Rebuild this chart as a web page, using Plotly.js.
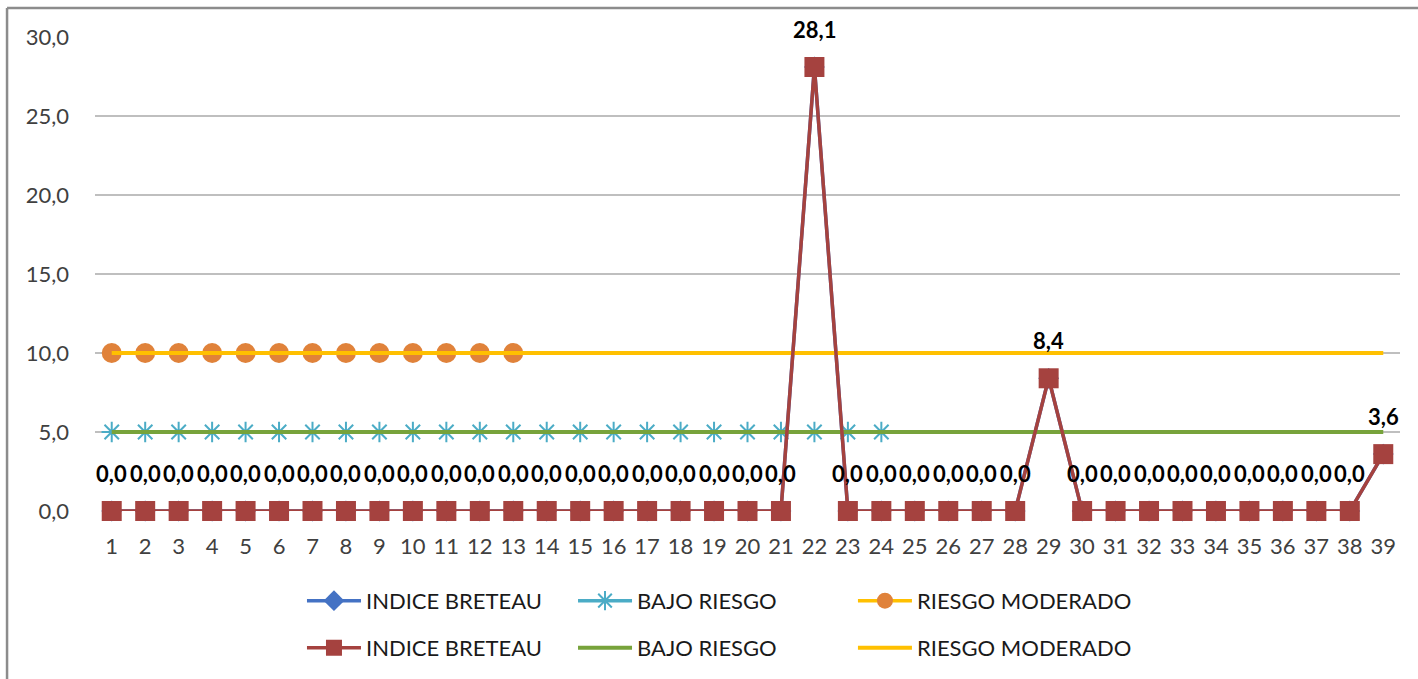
<!DOCTYPE html>
<html>
<head>
<meta charset="utf-8">
<script src="https://cdn.plot.ly/plotly-3.0.1.min.js"></script>
<style>html,body{margin:0;padding:0;background:#fff;}#chart{width:1418px;height:679px;}</style>
</head>
<body>
<div id="chart"></div>
<script>
const categories = ["1","2","3","4","5","6","7","8","9","10","11","12","13","14","15","16","17","18","19","20","21","22","23","24","25","26","27","28","29","30","31","32","33","34","35","36","37","38","39"];
const indiceBreteau = [0,0,0,0,0,0,0,0,0,0,0,0,0,0,0,0,0,0,0,0,0,28.1,0,0,0,0,0,0,8.4,0,0,0,0,0,0,0,0,0,3.6];
const bajoRiesgoMarkers = [5,5,5,5,5,5,5,5,5,5,5,5,5,5,5,5,5,5,5,5,5,5,5,5];
const riesgoModeradoMarkers = [10,10,10,10,10,10,10,10,10,10,10,10,10];
const bajoRiesgoLine = categories.map(() => 5);
const riesgoModeradoLine = categories.map(() => 10);
const yTicks = [0,5,10,15,20,25,30];
const yTickLabels = ["0,0","5,0","10,0","15,0","20,0","25,0","30,0"];

const fmt = v => v.toFixed(1).replace(".", ",");
const FONT = "Lato, 'Open Sans', sans-serif";

const traces = [
  {name:"INDICE BRETEAU", x:categories, y:indiceBreteau, mode:"lines+markers", cliponaxis:false,
   line:{color:"#4472C4", width:3.5}, marker:{symbol:"diamond", size:16, color:"#4472C4"},
   legend:"legend"},
  {name:"BAJO RIESGO", x:categories.slice(0, bajoRiesgoMarkers.length), y:bajoRiesgoMarkers, mode:"lines+markers", cliponaxis:false,
   line:{color:"#4BACC6", width:3.5},
   marker:{symbol:"asterisk", size:17, color:"#4BACC6", line:{color:"#4BACC6", width:2}},
   legend:"legend2"},
  {name:"BAJO RIESGO", x:categories, y:bajoRiesgoLine, mode:"lines", cliponaxis:false,
   line:{color:"#77A33B", width:4}, legend:"legend5"},
  {name:"RIESGO MODERADO", x:categories.slice(0, riesgoModeradoMarkers.length), y:riesgoModeradoMarkers, mode:"lines+markers", cliponaxis:false,
   line:{color:"#FFC000", width:3.5},
   marker:{symbol:"circle", size:20, color:"#E0823A"},
   legend:"legend3"},
  {name:"RIESGO MODERADO", x:categories, y:riesgoModeradoLine, mode:"lines", cliponaxis:false,
   line:{color:"#FFC000", width:4}, legend:"legend6"},
  {name:"INDICE BRETEAU", x:categories, y:indiceBreteau, mode:"lines+markers", cliponaxis:false,
   line:{color:"#A5423F", width:3.5}, marker:{symbol:"square", size:20, color:"#A5423F"},
   legend:"legend4"}
];

const annotations = categories.map((c, i) => ({
  x: i, y: indiceBreteau[i], xref:"x", yref:"y",
  text: "<b>" + fmt(indiceBreteau[i]) + "</b>",
  showarrow:false, yshift:38, xanchor:"center", yanchor:"middle",
  font:{family:FONT, size:22, color:"#000000"}
}));

const legendBase = {orientation:"v", xanchor:"left", yanchor:"middle",
  font:{family:FONT, size:22, color:"#1a1a1a"},
  itemwidth:54, bgcolor:"rgba(0,0,0,0)"};
const colX = [0.1586, 0.3663, 0.5808];
const rowY = [-0.187, -0.286];

const layout = {
  width:1418, height:679,
  margin:{l:95, r:18, t:37, b:167},
  paper_bgcolor:"#ffffff", plot_bgcolor:"#ffffff",
  font:{family:FONT, size:22, color:"#404040"},
  showlegend:true,
  xaxis:{type:"category", range:[-0.5, 38.5], showgrid:false, zeroline:false,
    showline:false, ticks:"", ticklabelstandoff:20,
    tickfont:{family:FONT, size:22, color:"#404040"}, fixedrange:true},
  yaxis:{range:[0,30], tickvals:yTicks, ticktext:yTickLabels, showgrid:true,
    gridcolor:"#BFBFBF", gridwidth:1.5, zeroline:false, showline:false, ticks:"",
    ticklabelstandoff:25, tickfont:{family:FONT, size:22, color:"#404040"}, fixedrange:true},
  legend:  Object.assign({}, legendBase, {x:colX[0], y:rowY[0]}),
  legend2: Object.assign({}, legendBase, {x:colX[1], y:rowY[0]}),
  legend3: Object.assign({}, legendBase, {x:colX[2], y:rowY[0]}),
  legend4: Object.assign({}, legendBase, {x:colX[0], y:rowY[1]}),
  legend5: Object.assign({}, legendBase, {x:colX[1], y:rowY[1]}),
  legend6: Object.assign({}, legendBase, {x:colX[2], y:rowY[1]}),
  annotations: annotations,
  shapes:[
    {type:"line", xref:"paper", yref:"paper", x0:-0.0674, x1:1.02, y0:1.061, y1:1.061,
     line:{color:"#8c8c8c", width:2.5}},
    {type:"line", xref:"paper", yref:"paper", x0:-0.0674, x1:-0.0674, y0:1.061, y1:-0.36,
     line:{color:"#8c8c8c", width:2.5}}
  ]
};

Plotly.newPlot("chart", traces, layout, {displayModeBar:false, staticPlot:true});
</script>
</body>
</html>
